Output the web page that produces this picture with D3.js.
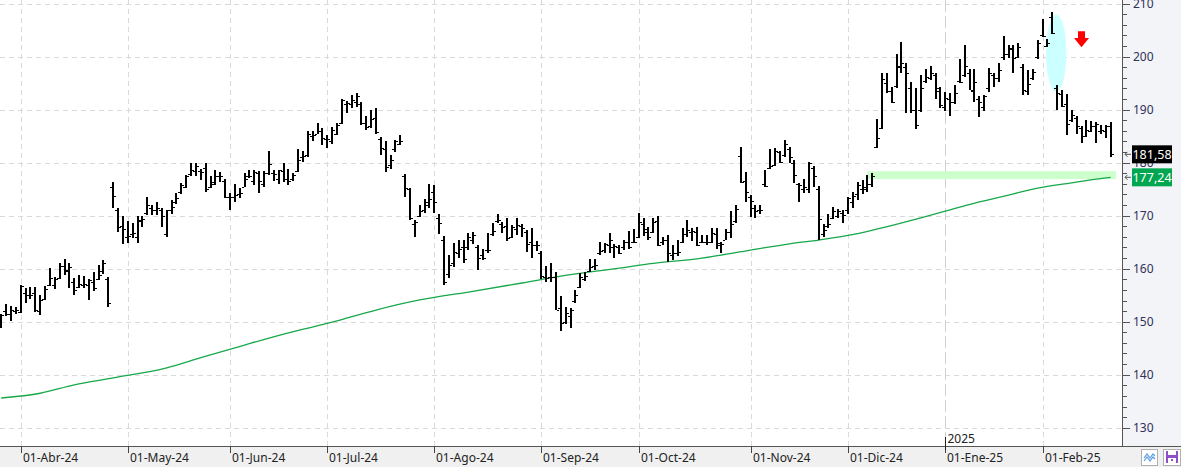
<!DOCTYPE html>
<html><head><meta charset="utf-8">
<script src="https://cdn.jsdelivr.net/npm/d3@7"></script>
<style>
html,body{margin:0;padding:0;background:#fff;overflow:hidden;}
svg{display:block;}
text{font-family:"Segoe UI","Noto Sans","Open Sans",sans-serif;}
</style></head><body>
<svg id="c" width="1181" height="467"></svg>
<script>
// ---------------- DATA ----------------
const highs = [151.4,153.3,153.0,152.7,156.9,156.3,156.6,156.5,155.0,156.7,160.1,158.4,161.1,161.8,161.0,158.2,158.8,158.6,158.1,159.4,160.7,161.6,158.4,176.4,171.4,169.9,169.0,168.7,169.9,169.9,173.5,172.0,172.6,171.4,171.1,173.0,174.2,176.2,177.7,180.0,179.9,178.9,179.9,177.4,178.6,178.3,176.9,174.2,176.0,175.2,178.0,178.7,178.7,178.5,178.5,182.2,178.6,178.7,179.9,178.9,178.0,182.5,182.2,185.9,185.9,187.4,186.5,185.2,186.8,187.5,192.1,191.7,192.8,193.2,191.5,188.8,189.9,190.3,184.9,184.0,181.5,184.3,185.2,177.9,175.2,169.2,172.0,173.2,176.0,175.8,170.3,166.2,162.6,164.9,165.5,165.5,166.8,167.0,164.5,163.8,166.7,168.7,170.4,168.9,169.5,168.2,169.5,168.4,167.3,167.6,165.3,163.4,160.5,161.1,159.4,154.8,152.8,152.5,155.9,159.2,159.4,161.8,161.8,165.1,164.9,166.8,164.7,164.5,165.5,167.2,167.4,170.6,169.5,167.9,169.5,169.9,166.0,166.4,164.5,165.4,167.6,169.2,167.6,167.8,166.4,166.4,167.6,167.6,165.1,167.4,170.8,172.0,183.0,178.3,173.9,172.0,172.0,178.7,182.5,182.7,182.3,184.2,182.9,180.5,176.1,177.0,180.2,179.4,175.6,168.4,170.4,171.6,171.2,171.1,173.6,174.5,176.4,176.8,177.7,178.1,188.2,196.9,196.9,194.2,200.6,202.8,198.9,195.3,194.0,196.6,197.6,198.2,196.9,194.2,193.4,193.1,194.7,199.5,202.2,197.6,197.6,192.5,192.8,197.8,197.0,198.9,203.9,202.2,202.2,202.5,198.7,197.5,197.6,203.2,207.2,203.3,208.5,194.7,193.8,193.0,189.9,188.8,186.9,188.1,187.9,187.6,187.1,187.1,187.6];
const lows = [148.9,151.0,150.2,151.4,151.7,153.6,154.2,151.9,151.2,154.1,156.7,156.1,158.0,158.8,156.3,155.0,156.3,156.3,154.1,155.8,157.9,159.0,152.8,171.4,167.0,164.7,164.9,165.7,164.9,167.9,170.1,170.1,170.1,167.9,165.9,170.3,172.2,174.1,175.2,177.4,177.4,176.7,174.5,175.2,175.8,176.4,173.3,171.1,172.5,173.3,175.4,177.2,175.8,174.3,175.5,177.7,176.6,176.0,176.4,175.8,176.6,178.3,180.2,181.1,184.0,185.4,183.3,182.7,183.6,185.2,187.3,189.3,190.3,190.6,187.1,186.2,186.5,185.4,181.4,178.3,178.9,182.1,183.3,173.6,169.2,165.9,169.8,170.5,171.4,170.6,166.5,156.9,158.2,160.3,162.1,161.1,163.6,164.7,159.8,161.6,163.0,166.2,168.7,166.7,165.3,165.7,166.4,166.0,163.2,162.1,163.4,158.0,157.5,157.5,152.2,148.3,149.6,148.9,153.6,156.3,157.7,159.4,159.8,162.6,163.0,163.0,162.1,162.8,163.5,163.8,164.8,165.8,166.2,165.5,166.8,164.3,164.5,161.2,161.6,162.4,164.8,166.0,165.3,164.3,164.8,164.5,164.8,163.7,162.9,165.4,165.7,168.7,176.2,172.5,169.7,169.5,170.4,175.4,178.9,179.4,180.0,181.0,180.0,176.1,172.6,174.2,174.3,175.5,165.4,165.9,167.6,169.3,169.5,168.7,170.4,171.5,173.0,174.0,174.5,175.5,182.7,186.3,193.1,191.2,194.0,196.9,189.4,189.3,186.3,189.6,195.1,195.6,192.0,190.3,189.8,188.8,191.1,195.1,196.2,193.7,191.5,188.6,189.8,193.4,194.2,195.3,199.4,199.7,196.9,199.7,192.8,192.8,195.6,199.5,203.7,201.9,204.3,190.0,190.6,185.2,187.6,185.4,183.7,184.8,185.7,183.7,185.5,184.6,181.1];
const opens = [149.5,152.0,151.5,152.0,151.8,155.5,155.0,155.5,152.0,154.3,157.0,157.0,158.3,160.5,159.5,157.5,156.5,157.0,157.0,157.5,158.0,159.5,158.1,175.5,171.0,168.0,166.0,166.5,166.0,169.0,170.5,171.5,171.0,171.0,166.5,171.0,172.5,174.5,175.5,177.8,178.5,178.5,179.0,175.5,176.0,177.5,176.5,173.5,173.5,174.0,175.5,177.5,176.5,178.0,176.0,178.0,178.0,177.0,178.5,177.0,177.0,178.5,181.0,181.5,185.0,185.5,186.0,184.5,184.0,185.5,187.5,191.0,191.0,191.5,191.0,187.5,187.0,188.5,184.5,182.5,179.5,182.5,183.5,177.5,175.0,168.5,170.0,171.0,172.5,174.5,169.5,165.5,159.0,161.0,163.0,164.0,164.0,165.5,164.0,162.5,163.5,166.5,169.0,168.5,168.0,166.0,167.5,168.0,167.0,165.0,164.5,163.0,158.5,158.5,158.5,152.5,150.0,151.0,154.0,156.5,158.0,159.5,160.5,163.0,163.5,164.5,164.0,164.0,164.0,165.0,165.0,166.0,168.5,167.0,167.0,169.0,165.0,165.5,162.5,163.0,165.0,166.5,167.0,167.0,165.0,165.0,165.0,166.5,164.5,165.5,167.0,169.0,181.3,176.5,173.5,171.5,171.0,176.0,179.0,179.5,182.0,181.5,182.5,180.0,176.0,175.0,175.0,179.0,175.0,166.5,168.0,169.5,170.0,170.5,171.0,172.5,174.0,175.0,175.0,176.0,183.0,186.6,195.0,193.5,194.5,198.0,198.0,194.0,190.0,190.0,195.5,196.0,196.5,193.5,190.5,192.0,191.5,195.5,196.5,197.0,193.5,192.0,190.5,194.0,196.5,196.0,200.0,200.5,201.5,200.0,198.0,193.5,196.0,200.0,204.0,202.0,207.5,194.0,193.0,191.0,188.0,188.5,186.5,185.0,186.0,187.0,186.0,186.0,187.0];
const closes = [151.3,151.4,152.2,152.3,156.7,155.0,155.1,152.2,154.1,156.2,158.2,158.0,160.6,159.7,160.4,156.0,157.2,157.2,157.9,156.3,158.8,161.0,153.5,173.7,167.9,167.4,166.2,166.8,169.2,169.3,172.0,171.1,171.4,169.9,171.0,171.7,173.3,175.8,177.4,178.6,179.4,178.3,175.0,176.4,177.4,177.4,173.6,173.5,173.9,174.3,176.9,177.5,178.3,176.6,178.1,179.8,177.9,178.6,176.9,176.6,177.7,180.5,181.3,185.5,185.2,185.9,184.6,184.4,186.2,187.2,191.8,191.2,191.8,192.5,187.4,186.8,188.2,185.7,182.7,179.2,180.5,184.0,184.0,175.2,169.5,168.9,170.8,172.1,173.1,172.5,168.6,157.4,160.7,163.2,163.8,161.9,166.0,166.3,162.1,162.1,163.5,167.1,169.1,167.9,165.7,167.9,168.2,167.6,164.7,164.5,164.5,158.6,158.2,158.4,152.3,149.7,151.6,152.3,155.0,158.5,158.6,160.4,160.7,163.4,164.7,165.5,164.3,163.0,165.1,164.0,165.1,168.9,167.4,165.9,168.9,164.5,165.4,163.0,163.0,163.2,166.5,167.3,167.2,164.5,165.1,165.1,166.8,164.8,164.7,167.0,168.4,171.2,176.4,174.5,172.8,170.8,171.1,175.6,179.3,182.3,180.2,183.5,181.1,177.7,175.8,175.5,179.9,177.4,169.3,167.3,168.4,170.8,170.9,170.1,173.3,173.8,175.8,175.5,175.9,177.4,184.6,195.8,193.6,191.5,198.2,198.8,196.9,189.9,187.1,194.0,196.1,196.9,194.0,190.9,192.3,191.5,193.1,195.3,198.2,193.8,195.3,191.5,192.5,197.0,195.9,197.5,200.5,201.6,199.7,201.8,193.7,194.9,197.2,202.5,203.9,202.5,204.4,193.1,190.7,187.3,189.0,186.9,185.0,186.1,186.9,187.3,186.1,186.9,181.58];

// 200-session moving average, read at selected sessions
const maIndex  = [0,8,15,23,34,41,50,59,68,77,86,96,107,115,121,127,133,144,154,162,168,176,181,189,195,201,207,213,220,225,228];
const maValues = [135.6,136.5,138.1,139.4,141.3,143.2,145.6,147.9,149.9,152.2,154.1,155.6,157.3,158.6,159.4,160.1,160.9,162.0,163.5,164.7,165.4,166.6,167.7,169.6,171.1,172.6,173.9,175.2,176.2,176.9,177.24];

const monthTickIndex  = [4,26,47,67,89,111,131,154,174,194,214];
const monthTickLabels = ["01-Abr-24","01-May-24","01-Jun-24","01-Jul-24","01-Ago-24","01-Sep-24","01-Oct-24","01-Nov-24","01-Dic-24","01-Ene-25","01-Feb-25"];
const yearBreakIndex = 194;
const yearLabel = "2025";
const yTickValues = [130,140,150,160,170,180,190,200,210];

// annotations (data space)
const supportZone = {from:178, to:229.1, top:178.4, bottom:176.9};
const gapEllipse  = {cx:216.8, cy:200.7, rx:2.1, ry:7.25};
const arrowAt     = {i:222.0, top:204.8, tip:201.8};

// ---------------- CHART ----------------
const W = 1181, H = 467, plotR = 1122, plotB = 446;
const svg = d3.select("#c");
const N = closes.length;
const x = d3.scaleLinear().domain([0, N-1]).range([1.3, 1110.7]);
const y = d3.scaleLinear().domain([130, 210]).range([427.7, 3.7]);

svg.append("rect").attr("x",0).attr("y",0).attr("width",plotR).attr("height",plotB).attr("fill","#ffffff");
svg.append("rect").attr("x",plotR).attr("y",0).attr("width",W-plotR).attr("height",plotB).attr("fill","#f3f4f8");
svg.append("rect").attr("x",0).attr("y",plotB).attr("width",W).attr("height",H-plotB).attr("fill","#f0f0f0");

const plot = svg.append("g");
// horizontal grid
plot.selectAll("line.hg").data(yTickValues).join("line")
  .attr("x1",0).attr("x2",plotR).attr("y1",d=>Math.round(y(d))+0.5).attr("y2",d=>Math.round(y(d))+0.5)
  .attr("stroke","#d9d9d9").attr("stroke-dasharray","5,4");
// vertical grid
plot.selectAll("line.vg").data(monthTickIndex).join("line")
  .attr("x1",d=>Math.round(x(d))+0.5).attr("x2",d=>Math.round(x(d))+0.5).attr("y1",0).attr("y2",plotB)
  .attr("stroke",d=>d===yearBreakIndex?"#cfcfcf":"#d9d9d9")
  .attr("stroke-dasharray",d=>d===yearBreakIndex?"12,4":"5,4");

// support zone
plot.append("rect")
  .attr("x",x(supportZone.from)).attr("width",x(supportZone.to)-x(supportZone.from))
  .attr("y",y(supportZone.top)).attr("height",y(supportZone.bottom)-y(supportZone.top))
  .attr("fill","#ccffcc");
// gap ellipse
plot.append("ellipse")
  .attr("cx",x(gapEllipse.cx)).attr("cy",y(gapEllipse.cy))
  .attr("rx",x(gapEllipse.rx)-x(0)).attr("ry",y(gapEllipse.cy-gapEllipse.ry)-y(gapEllipse.cy))
  .attr("fill","#ccffff");

// moving average
const maPts = maIndex.map((d,k)=>[d,maValues[k]]);
plot.append("path").datum(maPts)
  .attr("d",d3.line().x(d=>x(d[0])).y(d=>y(d[1])).curve(d3.curveMonotoneX))
  .attr("fill","none").attr("stroke","#17a84a").attr("stroke-width",1.3);

// OHLC bars
const bars = d3.range(N).map(i=>({i,o:opens[i],h:highs[i],l:lows[i],c:closes[i]}));
const bg = plot.append("g").attr("fill","#000");
bg.selectAll("rect.hl").data(bars).join("rect")
  .attr("x",d=>Math.round(x(d.i))-1).attr("width",2)
  .attr("y",d=>Math.round(y(d.h))).attr("height",d=>Math.max(1,Math.round(y(d.l))-Math.round(y(d.h))));
bg.selectAll("rect.op").data(bars).join("rect")
  .attr("x",d=>Math.round(x(d.i))-3).attr("width",2)
  .attr("y",d=>Math.round(y(d.o))).attr("height",1);
bg.selectAll("rect.cl").data(bars).join("rect")
  .attr("x",d=>Math.round(x(d.i))+1).attr("width",2)
  .attr("y",d=>Math.round(y(d.c))).attr("height",1);

// red arrow
const ax = x(arrowAt.i), at = y(arrowAt.top), ap = y(arrowAt.tip);
const ah = ap-at;
plot.append("path")
  .attr("d",`M${ax-3.5},${at} L${ax+3.5},${at} L${ax+3.5},${at+ah*0.42} L${ax+7.5},${at+ah*0.42} L${ax},${ap} L${ax-7.5},${at+ah*0.42} L${ax-3.5},${at+ah*0.42} Z`)
  .attr("fill","#ff0000");

// axes lines
svg.append("line").attr("x1",plotR+0.5).attr("x2",plotR+0.5).attr("y1",0).attr("y2",plotB).attr("stroke","#555");
svg.append("line").attr("x1",0).attr("x2",W).attr("y1",plotB+0.5).attr("y2",plotB+0.5).attr("stroke","#555");

// y axis ticks
const yMinor = d3.range(130,211,2);
svg.selectAll("line.yt").data(yMinor).join("line")
  .attr("x1",plotR).attr("x2",d=>d%10===0?plotR+8:plotR+5)
  .attr("y1",d=>Math.round(y(d))+0.5).attr("y2",d=>Math.round(y(d))+0.5)
  .attr("stroke","#555");
svg.selectAll("text.yl").data(yTickValues).join("text")
  .attr("x",plotR+11).attr("y",d=>y(d)).attr("dy","0.35em")
  .attr("font-size",12).attr("fill","#30305a").text(d=>d);

// x axis ticks
svg.selectAll("line.xt").data(monthTickIndex).join("line")
  .attr("x1",d=>Math.round(x(d))+0.5).attr("x2",d=>Math.round(x(d))+0.5)
  .attr("y1",plotB).attr("y2",plotB+7).attr("stroke","#444");
svg.selectAll("text.xl").data(monthTickIndex).join("text")
  .attr("x",d=>Math.round(x(d))+2).attr("y",plotB+16)
  .attr("font-size",12).attr("fill","#222").text((d,k)=>monthTickLabels[k]);
// year marker
const yx = Math.round(x(yearBreakIndex))+0.5;
svg.append("line").attr("x1",yx).attr("x2",yx).attr("y1",plotB-9).attr("y2",plotB+4).attr("stroke","#222");
svg.append("text").attr("x",yx+2).attr("y",plotB-3).attr("font-size",12).attr("fill","#222").text(yearLabel);

// value labels on the right
const fmt = v => d3.format(".2f")(v).replace(".",",");
const tags = [{v:closes[N-1], fill:"#000000"},{v:maValues[maValues.length-1], fill:"#00a650"}];
tags.forEach(t=>{
  const cy = y(t.v);
  svg.append("rect").attr("x",1132).attr("y",cy-9).attr("width",40).attr("height",18).attr("fill",t.fill);
  svg.append("text").attr("x",1152).attr("y",cy).attr("dy","0.36em").attr("text-anchor","middle")
    .attr("font-size",12.5).attr("fill","#fff").text(fmt(t.v));
  svg.append("path").attr("d",`M${1131},${cy} L${1125},${cy} M${1127.5},${cy-2.5} L${1125},${cy} L${1127.5},${cy+2.5}`)
    .attr("stroke","#555").attr("fill","none");
});

// bottom-right icons
const ic = svg.append("g");
ic.append("rect").attr("x",1141.5).attr("y",449.5).attr("width",16).attr("height",16).attr("fill","#fff").attr("stroke","#b0b0b0");
ic.append("path").attr("d","M1144,458 L1147,454 L1150,458 L1153,454 L1155,456").attr("stroke","#5a9be0").attr("fill","none").attr("stroke-width",1.2);
ic.append("path").attr("d","M1144,461 L1147,457 L1150,461 L1153,457 L1155,459").attr("stroke","#5a9be0").attr("fill","none").attr("stroke-width",1.2);
ic.append("rect").attr("x",1163.5).attr("y",449.5).attr("width",17).attr("height",16).attr("fill","#fff").attr("stroke","#b0b0b0");
ic.append("rect").attr("x",1166).attr("y",451).attr("width",12).attr("height",12).attr("fill","#8e4fc9");
ic.append("rect").attr("x",1168).attr("y",451).attr("width",8).attr("height",4).attr("fill","#fff");
ic.append("rect").attr("x",1168).attr("y",458).attr("width",8).attr("height",5).attr("fill","#fff");
ic.append("rect").attr("x",1171).attr("y",459).attr("width",2).attr("height",2).attr("fill","#8e4fc9");
</script>
</body></html>
